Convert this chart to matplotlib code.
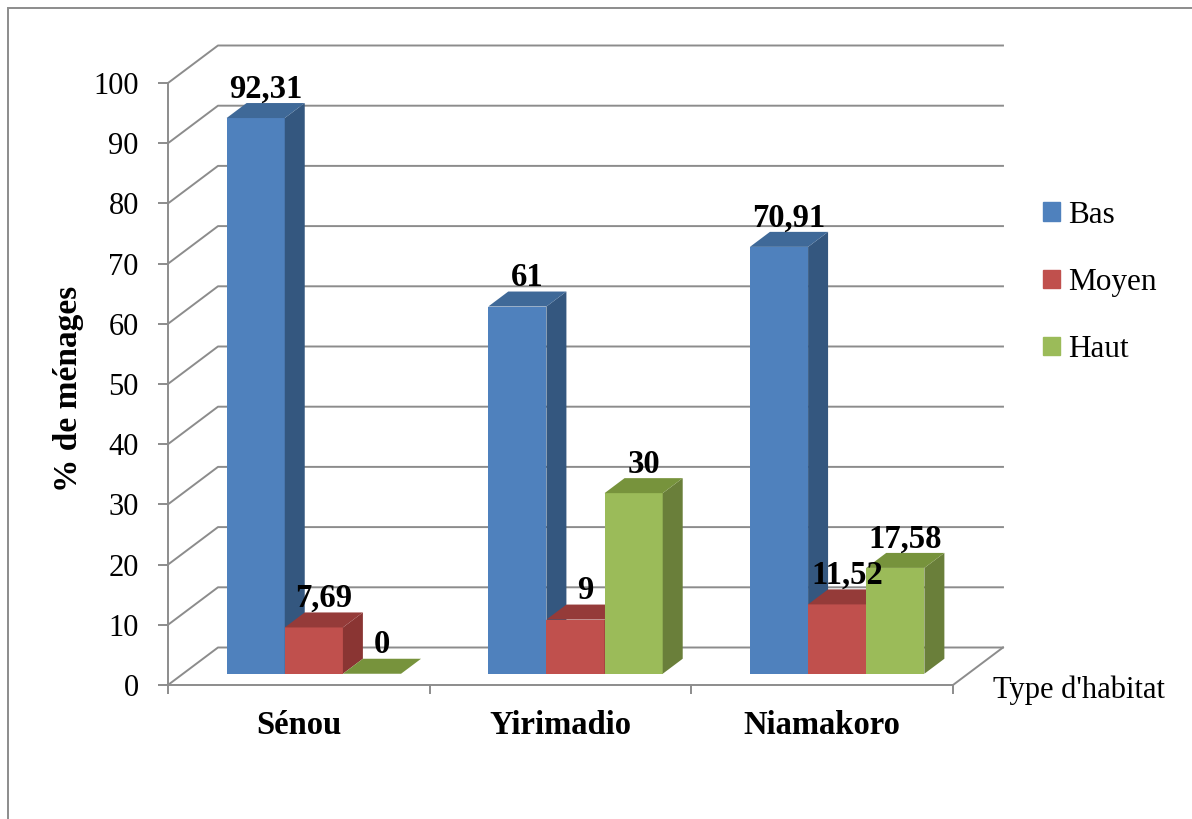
import numpy as np
import matplotlib.pyplot as plt
from matplotlib.patches import Polygon, Patch, Rectangle

categories = ['Sénou', 'Yirimadio', 'Niamakoro']
series = ['Bas', 'Moyen', 'Haut']
bas = [92.31, 61, 70.91]
moyen = [7.69, 9, 11.52]
haut = [0, 30, 17.58]
y_ticks = list(range(0, 101, 10))

front_colors = ['#4F81BD', '#C0504D', '#9BBB59']
side_colors = ['#34577F', '#8A3533', '#6A7F3A']
top_colors = ['#3F6998', '#953B39', '#77933C']
grid_c = '#8C8C8C'

plt.rcParams['font.family'] = 'Liberation Serif'

fig = plt.figure(figsize=(11.92, 8.19), dpi=100)
ax = fig.add_axes([168/1192, 134/819, 785/1192, 602/819])
ax.set_xlim(0, 3)
ax.set_ylim(0, 100)

# depth of the 3d box in data units; bars sit between 30% and 70% of it
DX, DY = 0.191, 6.23
F0, F1 = 0.3, 0.7

# back wall, left wall and floor
for v in y_ticks:
    ax.plot([0, DX, 3 + DX], [v, v + DY, v + DY], color=grid_c, lw=1.4,
            clip_on=False, zorder=1)
ax.plot([3, 3 + DX], [0, DY], color=grid_c, lw=1.4, clip_on=False, zorder=1)

for s in ['top', 'right']:
    ax.spines[s].set_visible(False)
for s in ['left', 'bottom']:
    ax.spines[s].set_color(grid_c)
    ax.spines[s].set_linewidth(1.4)

ax.set_yticks(y_ticks)
ax.tick_params(axis='y', length=7, width=1.4, color=grid_c, pad=14, labelsize=22)
ax.set_xticks([0.5, 1.5, 2.5], categories, fontweight='bold', fontsize=23.5)
ax.set_xticks([0, 1, 2, 3], minor=True)
ax.tick_params(axis='x', which='major', length=0, pad=18)
ax.tick_params(axis='x', which='minor', length=6.5, width=1.4, color=grid_c)

w = 1 / 4.5
idx = np.arange(len(categories))
ddx, ddy = (F1 - F0) * DX, (F1 - F0) * DY
base = F0 * DY
for j, vals in enumerate([bas, moyen, haut]):
    x0 = idx + 0.5 - 1.5 * w + j * w + F0 * DX
    ax.bar(x0, vals, width=w, bottom=base, align='edge', color=front_colors[j],
           zorder=2 + j, clip_on=False)
    for xl, v in zip(x0, vals):
        top = base + v
        ax.add_patch(Polygon([(xl + w, base), (xl + w + ddx, base + ddy),
                              (xl + w + ddx, top + ddy), (xl + w, top)],
                             closed=True, color=side_colors[j], lw=0,
                             zorder=2.1 + j, clip_on=False))
        ax.add_patch(Polygon([(xl, top), (xl + w, top), (xl + w + ddx, top + ddy),
                              (xl + ddx, top + ddy)],
                             closed=True, color=top_colors[j], lw=0,
                             zorder=2.1 + j, clip_on=False))
        lab = f'{v:g}'.replace('.', ',')
        ax.text(xl + w / 2 + ddx / 2, top + ddy + 0.9, lab, ha='center',
                va='baseline', fontsize=23.5, fontweight='bold', zorder=10)

handles = [Patch(color=c) for c in front_colors]
ax.legend(handles, series, loc='center left',
          bbox_to_anchor=(1043/1192, 1 - 282.5/819), bbox_transform=fig.transFigure,
          frameon=False, borderpad=0, borderaxespad=0, handlelength=0.55,
          handleheight=0.55, handletextpad=0.25, labelspacing=1.22, fontsize=22.5)

fig.text(68/1192, 1 - 389/819, '% de ménages', rotation=90, ha='center',
         va='center', fontsize=24, fontweight='bold')
fig.text(993/1192, 1 - 690/819, "Type d'habitat", ha='left', va='center',
         fontsize=22)

fig.add_artist(Rectangle((8/1192, -0.1), 1.2, 1.1 - 8/819, transform=fig.transFigure,
                         fill=False, edgecolor=grid_c, lw=1.4))

fig.savefig('out.png', dpi=100)
